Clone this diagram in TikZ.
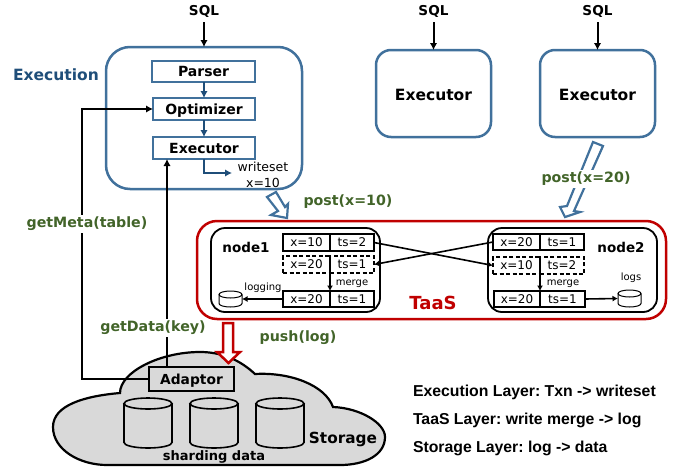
\documentclass[tikz,border=0pt]{standalone}
\usepackage{fontspec}
\setmainfont{DejaVu Sans}
\newfontfamily\arialb{Liberation Sans}
\usetikzlibrary{arrows.meta,calc}
\definecolor{bord}{HTML}{41719C}
\definecolor{deep}{HTML}{1F4E79}
\definecolor{grn}{HTML}{426429}
\definecolor{red1}{HTML}{C00000}
\definecolor{cloudc}{HTML}{D9D9D9}
\newcommand{\fz}[1]{\fontsize{#1}{#1}\selectfont}
\newcommand{\bx}[7][]{\node[#1,minimum width={(#4-#2)*1pt},minimum height={(#5-#3)*1pt}] (#6) at ({(#2+#4)/2},{(#3+#5)/2}) {#7};}
\newcommand{\cyl}[7][]{%
  \node[minimum width={(#4-#2)*1pt},minimum height={(#5-#3)*1pt},inner sep=0pt,outer sep=0pt] (#6) at ({(#2+#4)/2},{(#3+#5)/2}) {};
  \draw[#1] (#2,#3+#7) -- (#2,#5-#7) arc[start angle=180,end angle=0,x radius={(#4-#2)/2},y radius=#7] -- (#4,#3+#7);
  \draw[#1] ({(#2+#4)/2},#3+#7) ellipse[x radius={(#4-#2)/2},y radius=#7];
}
\tikzset{
  x=1pt,y=-1pt,
  every node/.style={inner sep=0pt,outer sep=0pt},
  tip/.style={-{Latex[length=7pt,width=7.5pt]}},
  tipsm/.style={-{Latex[length=5.5pt,width=6pt]}},
  blk/.style={draw=black,line width=2pt,tip},
  blu/.style={draw=deep,line width=2.2pt,tip},
  thin1/.style={draw=black,line width=1.6pt,tipsm},
  outer/.style={draw=bord,line width=2.5pt,rounded corners=#1,fill=white},
  outer/.default=15pt,
  capbox/.style={text height=10.5pt,text depth=0.5pt},
  inner1/.style={draw=bord,line width=1.7pt,font=\fz{14}\bfseries,capbox},
  big/.style={font=\fz{15.5}\bfseries},
  cell/.style={draw=black,line width=1.6pt,font=\fz{12}},
  dcell/.style={draw=black,line width=1.5pt,dash pattern=on 4pt off 2.5pt,font=\fz{12}},
  nodebox/.style={draw=black,line width=1.8pt,rounded corners=14pt},
  sql/.style={font=\fz{13.6}\bfseries},
  grnlab/.style={text=grn,font=\fz{14.2}\bfseries,fill=white,inner xsep=1pt,inner ysep=2pt},
  tiny1/.style={font=\fz{10}},
  note/.style={font=\fz{15.8}\arialb\bfseries\frenchspacing,anchor=west},
  hollow/.style={line width=2.2pt,fill=white,line join=miter},
}
\begin{document}
\begin{tikzpicture}
\useasboundingbox (0,0) rectangle (677,469);
% cloud
\draw[fill=cloudc,line width=2.2pt] (120,393) .. controls (85,396) and (53,405) .. (53,427)
  .. controls (53,450) and (80,465) .. (107,465) -- (340,465)
  .. controls (365,465) and (385,455) .. (385,437)
  .. controls (385,423) and (360,408) .. (333,407)
  .. controls (325,385) and (290,372) .. (255,374)
  .. controls (240,360) and (222,352) .. (200,352)
  .. controls (160,352) and (120,372) .. (120,393) -- cycle;
\cyl[line width=1.6pt]{124}{398}{172}{448}{gca}{5.5}
\cyl[line width=1.6pt]{190}{398}{238}{448}{gcb}{5.5}
\cyl[line width=1.6pt]{256}{398}{304}{448}{gcc}{5.5}
\node[font=\fz{15.3}\bfseries] (storage) at (343,439) {Storage};
\node[font=\fz{13}\bfseries] (shard) at (214,456.5) {sharding data};
\bx[draw=black,line width=1.6pt,fill=cloudc,font=\fz{13.8}\bfseries,capbox]{149}{367}{234}{391}{adaptor}{Adaptor}
% execution
\bx[outer=24pt]{106}{47}{302}{189}{ex}{}
\node[font=\fz{15.5}\bfseries,text=deep] (exlab) at (56,75) {Execution};
\bx[inner1]{152}{61}{255}{82}{parser}{Parser}
\bx[inner1]{153}{98}{255}{120}{opt}{Optimizer}
\bx[inner1]{153}{137}{255}{159}{exec}{Executor}
\draw[blu] (parser.south -| opt.north) -- (opt.north);
\draw[blu] (opt) -- (exec);
\coordinate (wsend) at (232,173);
\draw[blu] (exec.south) |- (wsend);
\node[font=\fz{12.5},align=center] (ws) at (263,175) {writeset\\[3.5pt]x=10};
\bx[outer]{376}{50}{491}{137}{exb}{}
\node[big] (exbl) at ($(exb)+(0,1)$) {Executor};
\bx[outer]{540}{50}{655}{137}{exc}{}
\node[big] (excl) at ($(exc)+(0,1)$) {Executor};
% SQL
\node[sql] (s1) at (204,11) {SQL};
\node[sql] (s2) at (433.5,11) {SQL};
\node[sql] (s3) at (597.5,11) {SQL};
\coordinate (s1o) at ($(s1.south)+(0,5)$);
\coordinate (s2o) at ($(s2.south)+(0,5)$);
\coordinate (s3o) at ($(s3.south)+(0,5)$);
\draw[blk] (s1o) -- (s1o |- ex.north);
\draw[blk] (s2o) -- (s2o |- exb.north);
\draw[blk] (s3o) -- (s3o |- exc.north);
% TaaS
\bx[draw=red1,line width=2.5pt,rounded corners=20pt]{197}{221}{666}{319}{taas}{}
\node[text=red1,font=\fz{18}\bfseries] (taasl) at (433,303) {TaaS};
\bx[nodebox]{211}{228}{380}{312}{nodeA}{}
\bx[nodebox]{488}{228}{657}{312}{nodeB}{}
\node[font=\fz{13.5}\bfseries] (n1) at (246,247) {node1};
\node[font=\fz{13.5}\bfseries] (n2) at (621,247) {node2};
% node1 cells
\bx[cell]{283}{234}{330}{251}{a1}{x=10}
\bx[cell]{330}{234}{374}{251}{a2}{ts=2}
\bx[dcell]{283}{256}{330}{273}{b1}{x=20}
\bx[dcell]{330}{256}{374}{273}{b2}{ts=1}
\bx[cell]{283}{291}{330}{307}{c1}{x=20}
\bx[cell]{330}{291}{374}{307}{c2}{ts=1}
\node[tiny1] (m1) at (352,283.5) {merge};
\node[tiny1] (lg) at (263,288) {logging};
\cyl[line width=1pt]{219}{291}{242}{307}{lcyl}{3.5}
\draw[blk,tipsm] (b1.south east) -- (c1.north east);
\draw[thin1] (c1.west) -- (lcyl.east);
% node2 cells
\bx[cell]{493}{234}{540}{250}{d1}{x=20}
\bx[cell]{540}{234}{584}{250}{d2}{ts=1}
\bx[dcell]{493}{257}{540}{274}{e1}{x=10}
\bx[dcell]{540}{257}{584}{274}{e2}{ts=2}
\bx[cell]{494}{291}{540}{307}{f1}{x=20}
\bx[cell]{540}{291}{585}{307}{f2}{ts=1}
\node[tiny1] (m2) at (563,283.5) {merge};
\node[tiny1] (lg2) at (631,278) {logs};
\cyl[line width=1pt]{618}{290}{641}{307}{rcyl}{3.5}
\draw[blk,tipsm] (e1.south east) -- (f1.north east);
\draw[thin1] (f2.east) -- (rcyl.west);
% cross
\draw[thin1] (a2.east) -- (e1.west);
\draw[thin1] (d1.west) -- (b2.east);
% storage links
\coordinate (gm0) at (82,224);
\draw[line width=2pt,tip] (adaptor.west) -| (gm0) |- (opt.west);
\coordinate (gd) at (167,367);
\draw[blk] (gd) -- (gd |- exec.south);
\node[grnlab] (gm) at (87,224) {getMeta(table)};
\node[grnlab] (gdl) at (153,328) {getData(key)};
% hollow arrows
\draw[hollow,draw=bord] (267,197) -- (276,192) -- (285,207) -- (288,204) -- (287,218) -- (271,215) -- (278,211) -- cycle;
\node[grnlab,fill=none] (p1) at (348,201.5) {post(x=10)};
\draw[hollow,draw=bord] (593,142) -- (603,146) -- (574,211) -- (580,212) -- (565,217) -- (560,207) -- (567,206) -- cycle;
\node[grnlab] (p2) at (586,179) {post(x=20)};
\draw[hollow,draw=red1,line width=2.5pt] (223,323) -- (233,323) -- (233,352) -- (240,352) -- (228.5,363) -- (217,352) -- (223,352) -- cycle;
\node[grnlab,fill=none] (p3) at (298,338) {push(log)};
% notes
\node[note] (t1) at (413,392) {Execution Layer: Txn -> writeset};
\node[note] (t2) at (413,420) {TaaS Layer: write merge -> log};
\node[note] (t3) at (413,448) {Storage Layer: log -> data};
\end{tikzpicture}
\end{document}
